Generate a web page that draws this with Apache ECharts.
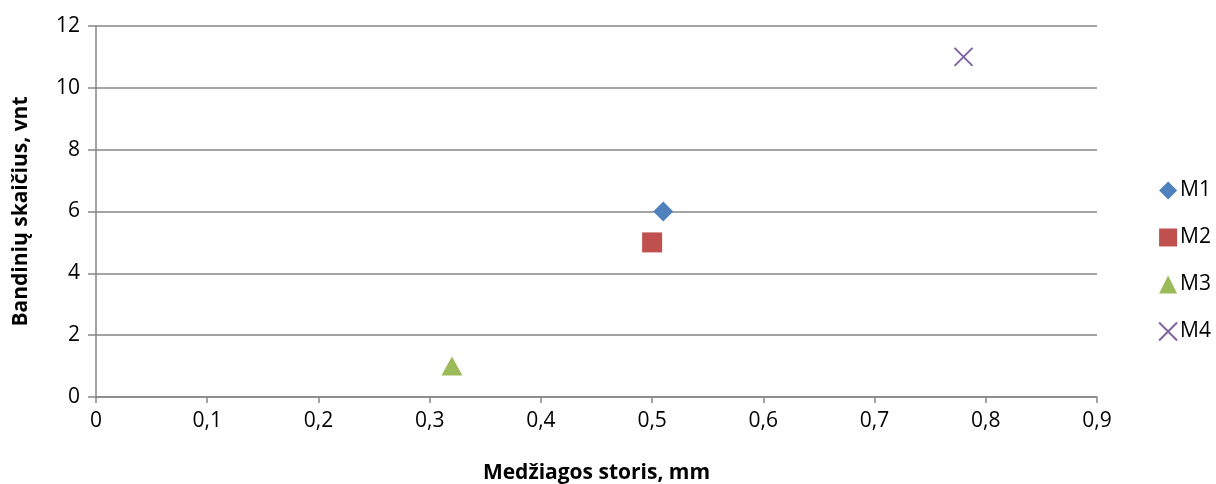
<!DOCTYPE html>
<html>
<head>
<meta charset="utf-8">
<script src="https://cdn.jsdelivr.net/npm/echarts@6/dist/echarts.min.js"></script>
<style>
  html, body { margin: 0; padding: 0; background: #fff; }
  #chart { width: 1216px; height: 484px; }
</style>
</head>
<body>
<div id="chart"></div>
<script>
// Sample thickness (mm) vs number of samples, one point per material
const seriesNames = ['M1', 'M2', 'M3', 'M4'];
const thickness = [0.51, 0.50, 0.32, 0.78];
const sampleCount = [6, 5, 1, 11];
const colors = ['#4F81BD', '#C0504D', '#9BBB59', '#8064A2'];
const symbols = ['diamond', 'rect', 'triangle', 'path://M0,0L10,10M10,0L0,10'];
const symbolSizes = [[20, 20], [20, 20], [21, 19], [18, 18]];

const fontFamily = 'Open Sans, Liberation Sans, sans-serif';
const axisGray = '#868686';

const series = seriesNames.map((name, i) => ({
  name: name,
  type: 'scatter',
  data: [[thickness[i], sampleCount[i]]],
  symbol: symbols[i],
  symbolSize: symbolSizes[i],
  itemStyle: i === 3
    ? { color: colors[i], borderColor: colors[i], borderWidth: 2, opacity: 1 }
    : { color: colors[i], opacity: 1 }
}));

const chart = echarts.init(document.getElementById('chart'), null, { renderer: 'canvas' });
chart.setOption({
  animation: false,
  backgroundColor: '#fff',
  grid: { left: 96, right: 119, top: 26, bottom: 87, containLabel: false, outerBoundsMode: 'none' },
  legend: {
    orient: 'vertical',
    right: 0,
    top: 175,
    itemGap: 26,
    itemWidth: 18,
    itemHeight: 18,
    textStyle: { fontFamily: fontFamily, fontSize: 21, color: '#000', padding: [0, 0, 0, -2] },
    data: seriesNames
  },
  xAxis: {
    type: 'value',
    min: 0,
    max: 0.9,
    interval: 0.1,
    name: 'Medžiagos storis, mm',
    nameLocation: 'middle',
    nameGap: 66,
    nameTextStyle: { fontFamily: fontFamily, fontSize: 21, fontWeight: 'bold', color: '#000' },
    axisLine: { show: true, lineStyle: { color: axisGray, width: 1.5 } },
    axisTick: { show: true, length: 6, lineStyle: { color: axisGray, width: 1.5 } },
    splitLine: { show: false },
    axisLabel: {
      fontFamily: fontFamily, fontSize: 21, color: '#000', margin: 14,
      formatter: v => String(Math.round(v * 10) / 10).replace('.', ',')
    }
  },
  yAxis: {
    type: 'value',
    min: 0,
    max: 12,
    interval: 2,
    name: 'Bandinių skaičius, vnt',
    nameLocation: 'middle',
    nameGap: 64,
    nameTextStyle: { fontFamily: fontFamily, fontSize: 21, fontWeight: 'bold', color: '#000' },
    axisLine: { show: true, lineStyle: { color: axisGray, width: 1.5 } },
    axisTick: { show: true, length: 8, lineStyle: { color: axisGray, width: 1.5 } },
    splitLine: { show: true, lineStyle: { color: axisGray, width: 1.5 } },
    axisLabel: { fontFamily: fontFamily, fontSize: 21, color: '#000', margin: 16 }
  },
  series: series
});
</script>
</body>
</html>
